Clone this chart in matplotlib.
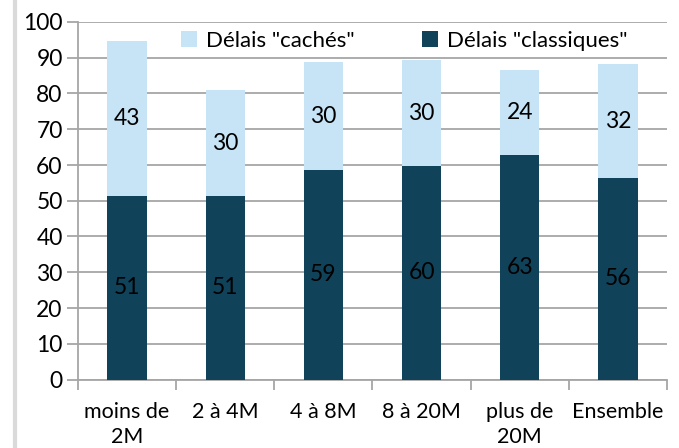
import matplotlib.pyplot as plt
from matplotlib.lines import Line2D

categories = ["moins de\n2M", "2 à 4M", "4 à 8M", "8 à 20M", "plus de\n20M", "Ensemble"]
classiques = [51.3, 51.3, 58.6, 59.6, 62.8, 56.4]
caches = [43.4, 29.7, 30.2, 29.8, 23.8, 31.8]

dark = "#10425A"
light = "#C6E4F6"
grid_col = "#A6A6A6"

plt.rcParams['font.family'] = ['Lato', 'DejaVu Sans']

fig = plt.figure(figsize=(6.79, 4.48), dpi=100)
ax = fig.add_axes([78 / 679, 1 - 379.5 / 448, (667 - 78) / 679, (379.5 - 22) / 448])

x = list(range(len(categories)))
b1 = ax.bar(x, classiques, width=0.4, color=dark, zorder=3, label='Délais "classiques"')
b2 = ax.bar(x, caches, width=0.4, bottom=classiques, color=light, zorder=3, label='Délais "cachés"')

for bars, vals in [(b1, classiques), (b2, caches)]:
    for r, v in zip(bars, vals):
        ax.text(r.get_x() + r.get_width() / 2, r.get_y() + r.get_height() / 2, "%.0f" % v,
                ha="center", va="center", fontsize=16.5, color="black", zorder=4)

ax.set_ylim(0, 100)
ax.set_xlim(-0.5, len(categories) - 0.5)
ax.set_yticks(range(0, 101, 10))
ax.tick_params(axis="y", labelsize=16.5, length=8, width=1.3, color=grid_col, pad=3)
ax.yaxis.grid(True, color=grid_col, linewidth=1.3, zorder=0)

# ticks between categories, labels at centres
ax.set_xticks([i - 0.5 for i in range(len(categories) + 1)])
ax.set_xticklabels([])
ax.set_xticks(x, minor=True)
ax.set_xticklabels(categories, minor=True, fontsize=15.5, linespacing=1.35)
ax.tick_params(axis="x", which="minor", length=0, pad=16)
ax.tick_params(axis="x", which="major", length=7, width=1.3, color=grid_col)

for s in ["top", "right"]:
    ax.spines[s].set_visible(False)
for s in ["left", "bottom"]:
    ax.spines[s].set_color(grid_col)
    ax.spines[s].set_linewidth(1.3)

leg = ax.legend(handles=[b2, b1], loc="center left", ncol=2, frameon=True, fontsize=16,
                bbox_to_anchor=(0.17, 0.948), borderaxespad=0, borderpad=0.15,
                handlelength=0.7, handleheight=0.7,
                handletextpad=0.4, columnspacing=3.05, fancybox=False, edgecolor="white")
leg.get_frame().set_linewidth(0)
leg.set_zorder(5)

# light grey border on the left of the picture
fig.add_artist(Line2D([15 / 679, 15 / 679], [0, 1], color="#DADADA", linewidth=3))

fig.savefig("out.png", dpi=100)
